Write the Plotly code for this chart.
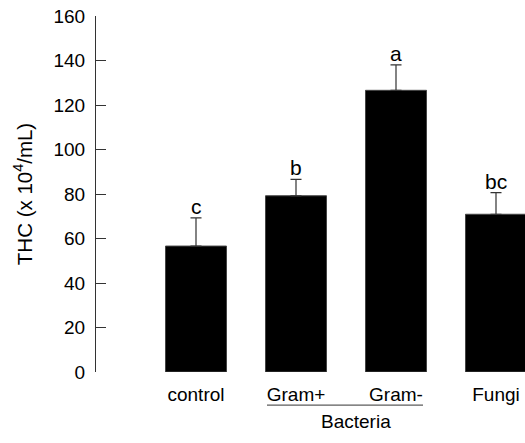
import plotly.graph_objects as go

categories = ["control", "Gram+", "Gram-", "Fungi"]
means = [56.6, 79.2, 126.6, 70.9]
errors = [12.7, 7.4, 11.4, 9.7]
letters = ["c", "b", "a", "bc"]
group_label = "Bacteria"
y_ticks = [0, 20, 40, 60, 80, 100, 120, 140, 160]

xpos = list(range(len(categories)))
FONT = "Liberation Sans, Arial, sans-serif"

fig = go.Figure()
fig.add_trace(go.Bar(
    x=xpos, y=means, width=0.61,
    marker=dict(color="black", line=dict(color="#444", width=1)),
    error_y=dict(type="data", array=errors, arrayminus=[0]*4, symmetric=False,
                 color="#333", thickness=1.2, width=5.5),
    showlegend=False,
))

for x, m, e, l in zip(xpos, means, errors, letters):
    fig.add_annotation(x=x, y=m + e, text=l, showarrow=False, xref="x", yref="y",
                       yanchor="bottom", yshift=-2, font=dict(size=21, color="black", family=FONT))

# Bacteria group line and label
fig.add_shape(type="line", xref="x", yref="paper", x0=0.71, x1=2.27, y0=-0.093, y1=-0.093,
              line=dict(color="#333", width=1))
fig.add_annotation(x=1.6, y=-0.14, xref="x", yref="paper", text=group_label, showarrow=False,
                   yanchor="middle", font=dict(size=19, color="black", family=FONT))

fig.update_layout(
    width=525, height=443,
    margin=dict(l=96, r=0, t=16, b=71),
    plot_bgcolor="white", paper_bgcolor="white",
    font=dict(family=FONT, color="black", size=19),
    bargap=0.39,
)
fig.update_xaxes(range=[-1, 3.29], tickvals=xpos, ticktext=categories, showline=False,
                 ticks="", showgrid=False, zeroline=False, tickfont=dict(size=19),
                 ticklabelstandoff=9)
fig.update_yaxes(range=[0, 160], tickvals=y_ticks, showline=True, linecolor="#333", linewidth=1.2,
                 ticks="inside", ticklen=10, tickcolor="#333", tickwidth=1.2,
                 showgrid=False, zeroline=False, tickfont=dict(size=19),
                 ticklabelstandoff=6,
                 title=dict(text="THC (x 10<sup>4</sup>/mL)", font=dict(size=20.5), standoff=15))

fig.write_html("out.html")
